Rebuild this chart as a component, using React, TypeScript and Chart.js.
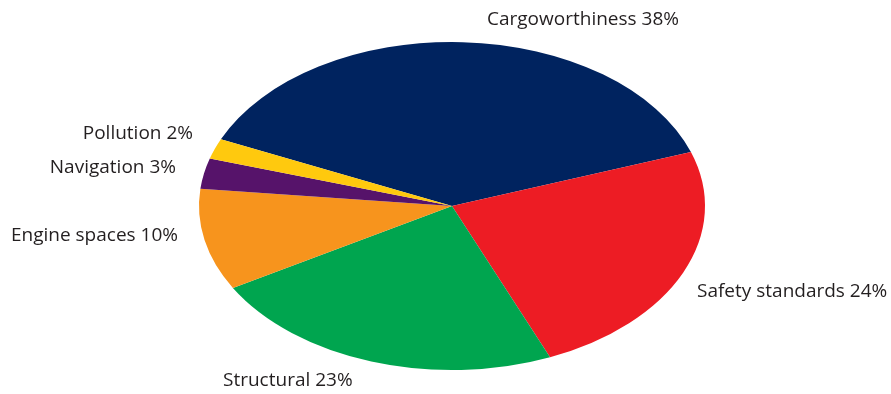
import React, { useEffect, useRef } from "react";
import { Chart, registerables } from "chart.js";

Chart.register(...registerables);

const categories = ["Cargoworthiness", "Safety standards", "Structural", "Engine spaces", "Navigation", "Pollution"];
const values = [38, 24, 23, 10, 3, 2];
const colors = ["#00235F", "#ED1C24", "#00A54F", "#F7941D", "#56136A", "#FFC90E"];

const CX = 452;
const CY = 206;
const RY = 164;
const RX = 253;
const SX = RX / RY;

// label anchors (style): [x, y, align]
const labelAnchors: [number, number, CanvasTextAlign][] = [
  [487, 20, "left"],
  [697, 292, "left"],
  [223, 381, "left"],
  [178, 236, "right"],
  [176, 168, "right"],
  [193, 134, "right"],
];

const ellipsePlugin = {
  id: "ellipse",
  beforeDatasetsDraw(chart: any) {
    const ctx = chart.ctx;
    ctx.save();
    ctx.translate(CX, CY);
    ctx.scale(SX, 1);
    ctx.translate(-CX, -CY);
  },
  afterDatasetsDraw(chart: any) {
    chart.ctx.restore();
  },
  afterDraw(chart: any) {
    const ctx = chart.ctx;
    ctx.save();
    ctx.font = "19px 'Open Sans'";
    ctx.fillStyle = "#231F20";
    ctx.textBaseline = "middle";
    categories.forEach((c, i) => {
      const [x, y, a] = labelAnchors[i];
      ctx.textAlign = a;
      ctx.fillText(`${c} ${values[i]}%`, x, y);
    });
    ctx.restore();
  },
};

export default function App() {
  const ref = useRef<HTMLCanvasElement>(null);
  useEffect(() => {
    document.body.style.margin = "0";
    const chart = new Chart(ref.current!, {
      type: "pie",
      data: {
        labels: categories,
        datasets: [{ data: values, backgroundColor: colors, borderWidth: 0 }],
      },
      options: {
        animation: false,
        responsive: false,
        rotation: -66,
        layout: { padding: { top: CY - RY, bottom: 394 - (CY + RY), left: CX - RY - 36, right: 891 - (CX + RY + 36) } },
        plugins: { legend: { display: false }, tooltip: { enabled: false } },
      },
      plugins: [ellipsePlugin],
    });
    return () => chart.destroy();
  }, []);
  return <canvas ref={ref} width={891} height={394} style={{ display: "block" }} />;
}
